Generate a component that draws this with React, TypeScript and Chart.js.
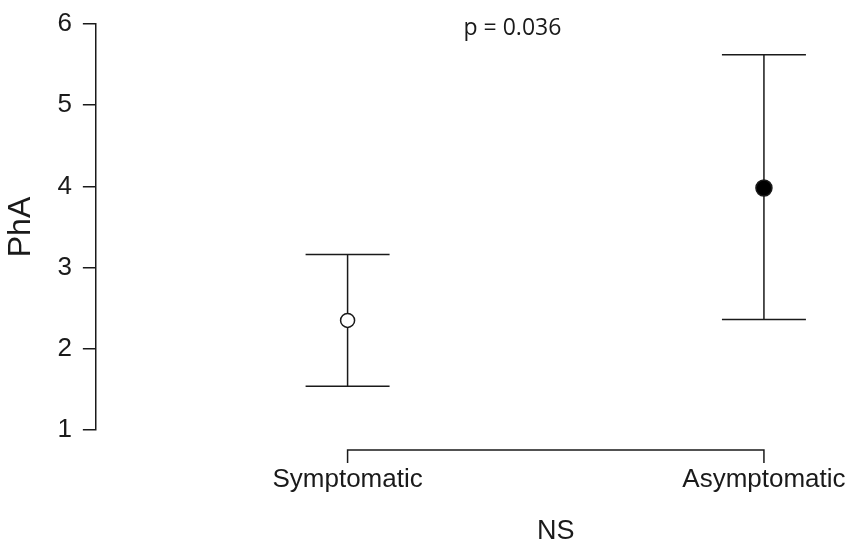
import React, { useEffect, useRef } from 'react';
import { Chart, registerables } from 'chart.js';

Chart.register(...registerables);

const categories = ['Symptomatic', 'Asymptomatic'];
const means = [2.35, 3.98];
const upper = [3.16, 5.62];
const lower = [1.54, 2.36];
const yTicks = [1, 2, 3, 4, 5, 6];
const pointFills = ['#ffffff', '#000000'];
const pointRadii = [7, 8];
const pValueText = 'p = 0.036';
const xTitle = 'NS';
const yTitle = 'PhA';

const FONT = "'Liberation Sans', Arial, sans-serif";
const INK = '#1a1a1a';

const customPlugin = {
  id: 'customDraw',
  beforeDatasetsDraw(chart: any) {
    const { ctx, scales } = chart;
    const xs = scales.x;
    const ys = scales.y;
    ctx.save();
    ctx.strokeStyle = INK;
    ctx.lineWidth = 1.5;
    const cap = 42;
    categories.forEach((_, i) => {
      const px = xs.getPixelForValue(i);
      const yt = ys.getPixelForValue(upper[i]);
      const yb = ys.getPixelForValue(lower[i]);
      ctx.beginPath();
      ctx.moveTo(px, yt);
      ctx.lineTo(px, yb);
      ctx.moveTo(px - cap, yt);
      ctx.lineTo(px + cap, yt);
      ctx.moveTo(px - cap, yb);
      ctx.lineTo(px + cap, yb);
      ctx.stroke();
    });
    ctx.restore();
  },
  afterDraw(chart: any) {
    const { ctx, scales, chartArea } = chart;
    const xs = scales.x;
    const x0 = xs.getPixelForValue(0);
    const x1 = xs.getPixelForValue(categories.length - 1);
    const axisY = chartArea.bottom + 20;
    ctx.save();
    ctx.strokeStyle = INK;
    ctx.lineWidth = 1.5;
    ctx.beginPath();
    ctx.moveTo(x0, axisY + 13);
    ctx.lineTo(x0, axisY);
    ctx.lineTo(x1, axisY);
    ctx.lineTo(x1, axisY + 13);
    ctx.stroke();
    ctx.fillStyle = INK;
    ctx.textAlign = 'center';
    ctx.textBaseline = 'alphabetic';
    ctx.font = `26px ${FONT}`;
    categories.forEach((c, i) => {
      ctx.fillText(c, xs.getPixelForValue(i), axisY + 37);
    });
    ctx.font = `27px ${FONT}`;
    ctx.fillText(xTitle, (x0 + x1) / 2, axisY + 89);
    ctx.textBaseline = 'middle';
    ctx.font = `23px 'Open Sans', Lato, sans-serif`;
    ctx.fillText(pValueText, xs.getPixelForValue(0.396), chartArea.top + 4);
    ctx.restore();
  },
};

export default function App() {
  const ref = useRef<HTMLCanvasElement | null>(null);
  useEffect(() => {
    if (!ref.current) return;
    const chart = new Chart(ref.current, {
      type: 'scatter',
      data: {
        datasets: [
          {
            data: categories.map((_, i) => ({ x: i, y: means[i] })),
            pointRadius: pointRadii,
            pointHoverRadius: pointRadii,
            pointBackgroundColor: pointFills,
            pointBorderColor: INK,
            pointBorderWidth: 1.5,
            showLine: false,
          },
        ],
      },
      options: {
        animation: false,
        responsive: true,
        maintainAspectRatio: false,
        layout: { padding: { top: 11, bottom: 121, left: 0, right: 6 } },
        plugins: { legend: { display: false }, tooltip: { enabled: false } },
        scales: {
          x: { type: 'linear', display: false, min: -0.6046, max: 1.1863 },
          y: {
            type: 'linear',
            min: yTicks[0],
            max: yTicks[yTicks.length - 1],
            afterBuildTicks: (axis: any) => {
              axis.ticks = yTicks.map((v) => ({ value: v }));
            },
            ticks: { color: INK, font: { size: 26, family: FONT, lineHeight: 1 }, padding: 11 },
            grid: { drawOnChartArea: false, drawTicks: true, tickLength: 13, color: INK, lineWidth: 1.5 },
            border: { display: true, color: INK, width: 1.5 },
            title: { display: true, text: yTitle, color: INK, font: { size: 32, family: FONT }, padding: { top: 2, bottom: 6 } },
          },
        },
      },
      plugins: [customPlugin],
    });
    return () => chart.destroy();
  }, []);
  return (
    <div style={{ position: 'fixed', left: 0, top: 0, width: 851, height: 551, background: '#fff' }}>
      <canvas ref={ref} />
    </div>
  );
}
